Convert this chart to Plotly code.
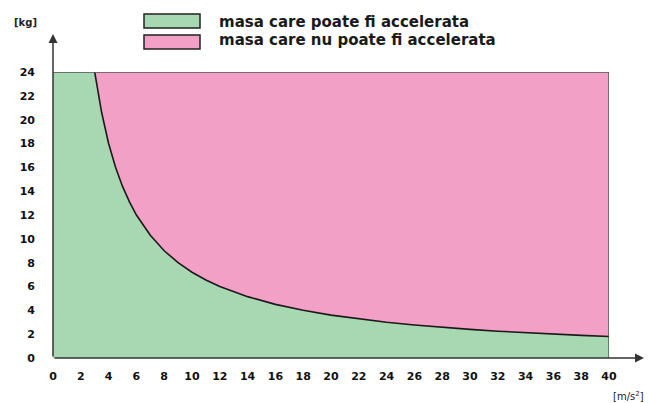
import plotly.graph_objects as go

# acceleration [m/s^2] and mass limit [kg]
accel = [0, 3, 3.5, 4, 4.5, 5, 5.5, 6, 7, 8, 9, 10, 11, 12, 13, 14, 16, 18, 20,
         22, 24, 26, 28, 30, 32, 34, 36, 38, 40]
mass = [24, 24, 20.6, 18, 16, 14.4, 13.1, 12, 10.3, 9, 8, 7.2, 6.55, 6, 5.55, 5.15, 4.5, 4, 3.6,
        3.27, 3, 2.77, 2.57, 2.4, 2.25, 2.12, 2, 1.9, 1.8]
x_ticks = list(range(0, 41, 2))
y_ticks = list(range(0, 25, 2))
legend_labels = ["masa care poate fi accelerata", "masa care nu poate fi accelerata"]
green = "#a8d8b2"
pink = "#f3a0c6"
m_max = 24
a_max = 40

curve_x = accel[1:]
curve_y = mass[1:]

fig = go.Figure()
fig.add_trace(go.Scatter(x=accel, y=mass, fill="tozeroy", fillcolor=green,
                         mode="lines", line=dict(width=0),
                         hoverinfo="skip", showlegend=False))
fig.add_trace(go.Scatter(x=curve_x + [a_max, curve_x[0]], y=curve_y + [m_max, m_max],
                         fill="toself", fillcolor=pink, mode="lines",
                         line=dict(width=0),
                         hoverinfo="skip", showlegend=False))
fig.add_trace(go.Scatter(x=curve_x, y=curve_y, mode="lines",
                         line=dict(color="#1a1a1a", width=1.6),
                         hoverinfo="skip", showlegend=False))

W = 556.0
H = 286.0
def px(x):
    return (x - 53) / W
def py(y):
    return (358 - y) / H

shapes = [
    dict(type="line", xref="x", yref="y", x0=0, x1=a_max, y0=m_max, y1=m_max,
         line=dict(color="#555555", width=1.5)),
    dict(type="line", xref="x", yref="y", x0=a_max, x1=a_max, y0=0, y1=m_max,
         line=dict(color="#2d4a33", width=1.2)),
    dict(type="rect", xref="paper", yref="paper", x0=px(144), x1=px(200),
         y0=py(28), y1=py(14), fillcolor=green, line=dict(color="#222", width=1.5)),
    dict(type="rect", xref="paper", yref="paper", x0=px(144), x1=px(200),
         y0=py(49), y1=py(35), fillcolor=pink, line=dict(color="#222", width=1.5)),
]

lab = dict(showarrow=False, xref="paper", yref="paper", yanchor="middle")
annotations = [
    dict(xref="paper", yref="paper", x=px(644), y=0, ax=-591, ay=0, text="",
         showarrow=True, arrowhead=2, arrowsize=1.2, arrowwidth=1.5, arrowcolor="#333"),
    dict(xref="paper", yref="paper", x=0, y=py(34), ax=0, ay=324, text="",
         showarrow=True, arrowhead=2, arrowsize=1.2, arrowwidth=1.5, arrowcolor="#333"),
    dict(lab, x=px(26), y=py(22), xanchor="center", text="[kg]",
         font=dict(size=10, color="#222", family="DejaVu Sans", weight="bold")),
    dict(lab, x=px(628), y=py(396), xanchor="center", text="[m/s<sup>2</sup>]",
         font=dict(size=10, color="#222", family="DejaVu Sans")),
    dict(lab, x=px(217), y=py(22), xanchor="left", text=legend_labels[0],
         font=dict(size=15, color="#1a1a1a", family="DejaVu Sans", weight="bold")),
    dict(lab, x=px(217), y=py(40), xanchor="left", text=legend_labels[1],
         font=dict(size=15, color="#1a1a1a", family="DejaVu Sans", weight="bold")),
]

tickfont = dict(size=11, color="#111", family="DejaVu Sans", weight="bold")
fig.update_layout(
    width=648, height=403,
    margin=dict(l=53, r=39, t=72, b=45),
    paper_bgcolor="white", plot_bgcolor="white",
    shapes=shapes, annotations=annotations,
    xaxis=dict(range=[0, a_max], tickvals=x_ticks, ticktext=[str(v) for v in x_ticks],
               showgrid=False, zeroline=False, showline=False, ticks="", ticklen=0,
               ticklabelstandoff=10, tickfont=tickfont),
    yaxis=dict(range=[0, m_max], tickvals=y_ticks, ticktext=[str(v) for v in y_ticks],
               showgrid=False, zeroline=False, showline=False, ticks="", ticklen=0,
               ticklabelstandoff=17, tickfont=tickfont),
    showlegend=False,
)

fig.write_html("out.html", config={"displayModeBar": False},
               post_script="document.body.style.margin='0';")
